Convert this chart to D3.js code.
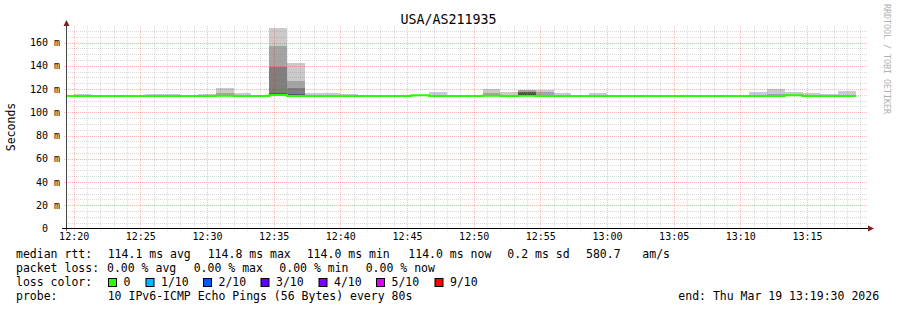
<!DOCTYPE html>
<html>
<head>
<meta charset="utf-8">
<script src="https://cdn.jsdelivr.net/npm/d3@7"></script>
<style>
  html, body { margin: 0; padding: 0; background: #fff; }
  svg { display: block; font-family: "DejaVu Sans Mono", monospace; }
</style>
</head>
<body>
<svg id="chart" width="897" height="310"></svg>
<script>
// one bin per 80 s probe round, first bin starts 12:18:40
const binCount = 45;
const medianRtt = [
  114.0, 114.0, 114.0, 114.0, 114.0, 114.0, 114.0, 114.0, 114.0, 114.1,
  114.0, 114.0, 114.8, 114.0, 114.0, 114.0, 114.0, 114.0, 114.0, 114.0,
  114.6, 114.0, 114.0, 114.0, 114.1, 114.0, 114.1, 114.0, 114.0, 114.0,
  114.0, 114.0, 114.0, 114.0, 114.0, 114.0, 114.0, 114.0, 114.0, 114.0,
  114.0, 114.6, 114.0, 114.0, 114.0
];
const pingMin = [
  113.8, 113.8, 113.8, 113.8, 113.8, 113.8, 113.8, 113.8, 113.8, 113.8,
  113.8, 113.8, 113.9, 113.7, 113.8, 113.8, 113.8, 113.8, 113.8, 113.8,
  113.9, 113.8, 113.8, 113.8, 113.8, 113.8, 113.8, 113.8, 113.8, 113.8,
  113.8, 113.8, 113.8, 113.8, 113.8, 113.8, 113.8, 113.8, 113.8, 113.8,
  113.8, 113.9, 113.8, 113.8, 113.8
];
const ping6 = [
  114.0, 114.0, 114.0, 114.0, 114.0, 114.0, 114.0, 114.0, 114.0, 114.1,
  114.0, 114.0, 115.2, 114.6, 114.0, 114.0, 114.0, 114.0, 114.0, 114.0,
  114.6, 114.0, 114.0, 114.0, 114.1, 114.0, 115.4, 114.0, 114.0, 114.0,
  114.0, 114.0, 114.0, 114.0, 114.0, 114.0, 114.0, 114.0, 114.0, 114.0,
  114.0, 114.6, 114.0, 114.0, 114.0
];
const ping7 = [
  114.1, 114.1, 114.1, 114.1, 114.1, 114.1, 114.1, 114.1, 114.1, 114.2,
  114.1, 114.1, 116.5, 115.6, 114.1, 114.1, 114.1, 114.1, 114.1, 114.1,
  114.7, 114.1, 114.1, 114.1, 114.2, 114.1, 117.4, 114.1, 114.1, 114.1,
  114.1, 114.1, 114.1, 114.1, 114.1, 114.1, 114.1, 114.1, 114.1, 114.1,
  114.1, 114.7, 114.1, 114.1, 114.1
];
const ping8 = [
  114.1, 114.1, 114.1, 114.1, 114.1, 114.1, 114.1, 114.1, 114.1, 114.2,
  114.1, 114.1, 138.5, 121.0, 114.1, 114.1, 114.1, 114.1, 114.1, 114.1,
  114.7, 114.1, 114.1, 114.1, 114.2, 114.1, 117.8, 114.1, 114.1, 114.1,
  114.1, 114.1, 114.1, 114.1, 114.1, 114.1, 114.1, 114.1, 114.1, 114.1,
  114.1, 114.7, 114.1, 114.1, 114.1
];
const ping9 = [
  114.2, 114.2, 114.2, 114.2, 114.2, 114.2, 114.2, 114.2, 114.2, 116.4,
  114.2, 114.2, 157.2, 127.0, 114.2, 114.2, 114.2, 114.2, 114.2, 114.2,
  114.7, 114.2, 114.2, 114.2, 116.2, 114.2, 119.2, 117.4, 114.2, 114.2,
  114.2, 114.2, 114.2, 114.2, 114.2, 114.2, 114.2, 114.2, 114.2, 114.2,
  116.0, 114.7, 114.2, 114.2, 114.2
];
const ping10 = [
  114.2, 115.9, 114.2, 114.2, 114.2, 115.9, 115.9, 114.2, 115.9, 121.0,
  116.7, 114.2, 172.6, 142.3, 116.2, 116.2, 115.6, 114.2, 114.2, 114.2,
  114.7, 117.6, 114.2, 114.2, 119.6, 117.6, 119.4, 119.0, 116.2, 114.2,
  116.7, 114.2, 114.2, 114.2, 114.2, 114.2, 114.2, 114.2, 114.2, 117.6,
  120.2, 117.6, 116.7, 115.9, 118.7
];
const yTicks = [0, 20, 40, 60, 80, 100, 120, 140, 160];
const lossLabels = ["0", "1/10", "2/10", "3/10", "4/10", "5/10", "9/10"];
const lossColors = ["#26ff00", "#00b8ff", "#0059ff", "#5e00ff", "#7e00ff", "#dd00ff", "#ff0000"];
const medianStats = ["114.1 ms avg", "114.8 ms max", "114.0 ms min", "114.0 ms now", "0.2 ms sd", "580.7", "am/s"];
const lossStats = ["0.00 % avg", "0.00 % max", "0.00 % min", "0.00 % now"];

const title = "USA/AS211935";
const probeText = "10 IPv6-ICMP Echo Pings (56 Bytes) every 80s";
const endText = "end: Thu Mar 19 13:19:30 2026";

const startTime = new Date(2026, 2, 19, 12, 19, 30);
const endTime = new Date(2026, 2, 19, 13, 19, 30);
const firstBin = new Date(2026, 2, 19, 12, 18, 40);
const stepMs = 80 * 1000;

// layout
const plot = { left: 67, right: 867, top: 26, bottom: 228.5 };
const smokeShades = ["#cacaca", "#a4a4a4", "#7e7e7e", "#585858", "#323232"];
const minorGrid = "rgba(150,150,150,0.35)";
const majorGrid = "rgba(255,0,0,0.28)";
const mono = "'DejaVu Sans Mono', monospace";

const svg = d3.select("#chart");

const x = d3.scaleTime()
  .domain([startTime, endTime])
  .range([plot.left, plot.right]);

const y = d3.scaleLinear()
  .domain([0, 160])
  .range([plot.bottom, 42.5]);

const bins = d3.range(binCount).map(i => ({
  start: new Date(+firstBin + i * stepMs),
  end: new Date(+firstBin + (i + 1) * stepMs),
  median: medianRtt[i],
  low: pingMin[i],
  tops: [ping10[i], ping9[i], ping8[i], ping7[i], ping6[i]],
}));

svg.append("defs").append("clipPath").attr("id", "plotclip")
  .append("rect")
  .attr("x", plot.left).attr("y", plot.top)
  .attr("width", plot.right - plot.left).attr("height", plot.bottom - plot.top);

// smoke: outer band lightest, inner bands drawn on top
const smoke = svg.append("g").attr("clip-path", "url(#plotclip)");
smokeShades.forEach((shade, k) => {
  smoke.append("g")
    .selectAll("rect")
    .data(bins.filter(b => b.tops[k] > b.low))
    .enter()
    .append("rect")
    .attr("x", d => x(d.start))
    .attr("width", d => x(d.end) - x(d.start))
    .attr("y", d => y(d.tops[k]))
    .attr("height", d => y(d.low) - y(d.tops[k]))
    .attr("fill", shade)
    .attr("shape-rendering", "crispEdges");
});

// grid
const grid = svg.append("g").attr("shape-rendering", "crispEdges");
const yMinor = d3.range(5, 175, 5).filter(v => v % 20 !== 0 && y(v) >= plot.top);
const yMajor = yTicks.filter(v => v > 0);
const xMinor = d3.timeMinute.range(startTime, endTime).filter(t => t.getMinutes() % 5 !== 0);
const xMajor = d3.timeMinute.every(5).range(startTime, endTime);

grid.selectAll(".hminor").data(yMinor).enter().append("line")
  .attr("x1", plot.left - 1).attr("x2", plot.right + 1)
  .attr("y1", d => Math.round(y(d)) + 0.5).attr("y2", d => Math.round(y(d)) + 0.5)
  .attr("stroke", minorGrid).attr("stroke-dasharray", "1,1");
grid.selectAll(".vminor").data(xMinor).enter().append("line")
  .attr("x1", d => Math.round(x(d)) + 0.5).attr("x2", d => Math.round(x(d)) + 0.5)
  .attr("y1", plot.top).attr("y2", plot.bottom + 2)
  .attr("stroke", minorGrid).attr("stroke-dasharray", "1,1");
grid.selectAll(".hmajor").data(yMajor).enter().append("line")
  .attr("x1", plot.left - 3).attr("x2", plot.right + 1)
  .attr("y1", d => Math.round(y(d)) + 0.5).attr("y2", d => Math.round(y(d)) + 0.5)
  .attr("stroke", majorGrid).attr("stroke-dasharray", "1,1");
grid.selectAll(".vmajor").data(xMajor).enter().append("line")
  .attr("x1", d => Math.round(x(d)) + 0.5).attr("x2", d => Math.round(x(d)) + 0.5)
  .attr("y1", plot.top).attr("y2", plot.bottom + 3)
  .attr("stroke", majorGrid).attr("stroke-dasharray", "1,1");

// median line, coloured by loss (all 0 here)
const stepPoints = bins.map(b => [x(b.start), y(b.median)]);
const last = bins[bins.length - 1];
stepPoints.push([x(last.end), y(last.median)]);
svg.append("path")
  .attr("clip-path", "url(#plotclip)")
  .attr("d", d3.line().curve(d3.curveStepAfter)(stepPoints))
  .attr("fill", "none")
  .attr("stroke", lossColors[0])
  .attr("stroke-width", 2);

// axes
const yAxis = svg.append("g")
  .attr("transform", `translate(${plot.left - 0.5},0)`)
  .call(d3.axisLeft(y)
    .tickValues(yTicks)
    .tickSize(0)
    .tickPadding(6.5)
    .tickFormat(v => v === 0 ? "0\u00a0\u00a0" : `${v} m`));
yAxis.select(".domain").remove();
yAxis.attr("font-family", mono).attr("font-size", 10);
yAxis.selectAll("text").attr("fill", "#000");

const xAxis = svg.append("g")
  .attr("transform", `translate(0,${plot.bottom})`)
  .call(d3.axisBottom(x)
    .tickValues(xMajor)
    .tickSize(0)
    .tickPadding(4.5)
    .tickFormat(d3.timeFormat("%H:%M")));
xAxis.select(".domain").remove();
xAxis.attr("font-family", mono).attr("font-size", 10);
xAxis.selectAll("text").attr("fill", "#000");

svg.append("line")
  .attr("x1", plot.left - 0.5).attr("x2", plot.left - 0.5)
  .attr("y1", 22).attr("y2", plot.bottom + 2)
  .attr("stroke", "#444");
svg.append("line")
  .attr("x1", plot.left - 5).attr("x2", 870)
  .attr("y1", plot.bottom).attr("y2", plot.bottom)
  .attr("stroke", "#000");
svg.append("path")
  .attr("d", `M${plot.left - 3.5},26 L${plot.left - 0.5},20 L${plot.left + 2.5},26 Z`)
  .attr("fill", "#7f1f1f");
svg.append("path")
  .attr("d", `M868,${plot.bottom - 3} L874,${plot.bottom} L868,${plot.bottom + 3} Z`)
  .attr("fill", "#7f1f1f");

// titles
svg.append("text")
  .attr("x", 448.5).attr("y", 24)
  .attr("text-anchor", "middle")
  .style("font-size", "13.3px")
  .text(title);

svg.append("text")
  .attr("transform", "translate(15,127) rotate(-90)")
  .attr("text-anchor", "middle")
  .style("font-size", "11.5px")
  .text("Seconds");

svg.append("text")
  .attr("transform", "translate(883.5,4) rotate(90)")
  .style("font-size", "8.3px")
  .attr("fill", "#b0b0b0")
  .text("RRDTOOL / TOBI OETIKER");

// legend
const legend = svg.append("g").style("font-size", "11.5px").attr("fill", "#000");
const rows = [258.3, 272, 285.8, 299.6];
const leftCol = 16;

legend.append("text").attr("x", leftCol).attr("y", rows[0]).text("median rtt:");
const medianX = [107.7, 207.7, 306.7, 408.3, 507.3, 586, 642.3];
medianStats.forEach((s, i) => {
  legend.append("text").attr("x", medianX[i]).attr("y", rows[0]).text(s);
});

legend.append("text").attr("x", leftCol).attr("y", rows[1]).text("packet loss:");
const lossX = [107, 193.7, 279.3, 365.7];
lossStats.forEach((s, i) => {
  legend.append("text").attr("x", lossX[i]).attr("y", rows[1]).text(s);
});

legend.append("text").attr("x", leftCol).attr("y", rows[2]).text("loss color:");
const boxX = [108.5, 146, 203.5, 261, 319, 376.5, 435];
lossLabels.forEach((lab, i) => {
  legend.append("rect")
    .attr("x", boxX[i]).attr("y", 278.5)
    .attr("width", 8).attr("height", 8)
    .attr("fill", lossColors[i])
    .attr("stroke", "#000")
    .attr("stroke-width", 1);
  legend.append("text").attr("x", boxX[i] + 15).attr("y", rows[2]).text(lab);
});

legend.append("text").attr("x", leftCol).attr("y", rows[3]).text("probe:");
legend.append("text").attr("x", 107.7).attr("y", rows[3]).text(probeText);
legend.append("text").attr("x", 678.3).attr("y", rows[3]).text(endText);
</script>
</body>
</html>
